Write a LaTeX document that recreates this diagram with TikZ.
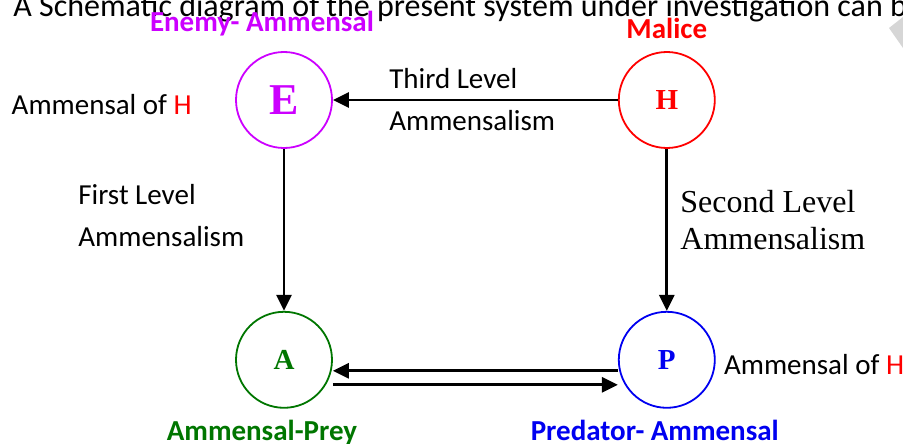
\documentclass[tikz,border=0pt]{standalone}
\usepackage{fontspec}
\setmainfont{Carlito}
\newfontfamily\serifletters{Liberation Serif}
\usetikzlibrary{arrows.meta, positioning}
\definecolor{enemycol}{RGB}{204,0,255}
\definecolor{malicecol}{RGB}{255,0,0}
\definecolor{preycol}{RGB}{0,118,0}
\definecolor{predcol}{RGB}{0,0,240}

\begin{document}
\begin{tikzpicture}[x=1pt, y=-1pt, node distance=162pt and 285pt, >={Triangle[length=16pt, width=15pt]}, line width=2.8pt]
    \tikzset{
        species/.style={circle, draw, line width=1.8pt, minimum size=96pt, inner sep=0pt, font=\serifletters\bfseries\fontsize{29}{29}\selectfont},
        tag/.style={inner sep=0pt, font=\bfseries\fontsize{29}{34}\selectfont},
        note/.style={inner sep=0pt, align=left, font=\fontsize{29}{42}\selectfont},
        line/.style={draw, ->}
    }
    \clip (0,0) rectangle (903,444);

    \node (Caption) [anchor=base west, inner sep=0pt, font=\fontsize{32}{36}\selectfont] at (12,17) {A Schematic diagram of the present system under investigation can be};
    \fill[black!16] (889,28) -- (903,17) -- (903,48) -- cycle;

    \node (E) [species, draw=enemycol, text=enemycol, font=\serifletters\bfseries\fontsize{44}{44}\selectfont] at (284,100) {E};
    \node (H) [species, draw=malicecol, text=malicecol, right=of E] {H};
    \node (A) [species, draw=preycol, text=preycol, below=of E] {A};
    \node (P) [species, draw=predcol, text=predcol, right=of A] {P};

    \node (Etag) [tag, text=enemycol, above=14pt of E, xshift=-22pt] {Enemy- Ammensal};
    \node (Htag) [tag, text=malicecol, above=11pt of H] {Malice};
    \node (Atag) [tag, text=preycol, below=10pt of A, xshift=-22pt] {Ammensal-Prey};
    \node (Ptag) [tag, text=predcol, below=10pt of P, xshift=-12pt] {Predator- Ammensal};

    \node (Eof) [note, left=42pt of E, yshift=-5pt] {Ammensal of \textcolor{malicecol}{H}};
    \node (Pof) [note, right=7pt of P, yshift=-5pt] {Ammensal of \textcolor{malicecol}{H}};

    \node (Third) [note, right=55pt of E] {Third Level\\Ammensalism};
    \node (First) [note, anchor=west] at (77,216) {First Level\\Ammensalism};
    \node (Second) [note, anchor=west, font=\serifletters\fontsize{32}{37}\selectfont] at (679,220) {Second Level\\Ammensalism};

    \path [line] (H) -- (E);
    \path [line] (E) -- (A);
    \path [line] (H) -- (P);
    \path [line] ([yshift=-11pt]P.west) -- ([yshift=-11pt]A.east);
    \path [line] ([yshift=-25pt]A.east) -- ([yshift=-25pt]P.west);

\end{tikzpicture}
\end{document}
